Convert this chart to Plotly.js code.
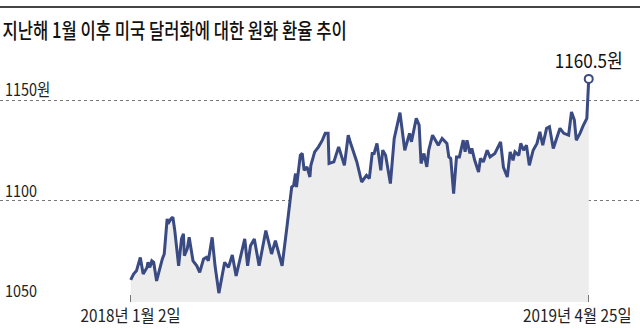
<!DOCTYPE html>
<html>
<head>
<meta charset="utf-8">
<script src="https://cdn.plot.ly/plotly-3.0.1.min.js"></script>
<style>
html,body{margin:0;padding:0;background:#fff;}
#chart{width:640px;height:329px;}
</style>
</head>
<body>
<div id="chart"></div>
<script>
const titleText = '지난해 1월 이후 미국 달러화에 대한 원화 환율 추이';
const dates = [
'2018-01-02','2018-01-05','2018-01-08','2018-01-12','2018-01-15','2018-01-19','2018-01-20','2018-01-22','2018-01-24','2018-01-26',
'2018-01-29','2018-02-02','2018-02-04','2018-02-06','2018-02-09','2018-02-10','2018-02-13','2018-02-15','2018-02-17','2018-02-21',
'2018-02-24','2018-02-26','2018-02-27','2018-03-02','2018-03-04','2018-03-08','2018-03-12','2018-03-15','2018-03-19','2018-03-22',
'2018-03-24','2018-03-28','2018-03-31','2018-04-04','2018-04-10','2018-04-14','2018-04-18','2018-04-22','2018-04-28','2018-05-01',
'2018-05-04','2018-05-07','2018-05-11','2018-05-16','2018-05-23','2018-05-29','2018-06-02','2018-06-09','2018-06-14','2018-06-19',
'2018-06-21','2018-06-23','2018-06-24','2018-06-28','2018-06-30','2018-07-02','2018-07-05','2018-07-08','2018-07-09','2018-07-13',
'2018-07-17','2018-07-19','2018-07-21','2018-07-24','2018-07-27','2018-07-28','2018-08-02','2018-08-07','2018-08-13','2018-08-17',
'2018-08-19','2018-08-26','2018-08-31','2018-09-05','2018-09-08','2018-09-11','2018-09-13','2018-09-16','2018-09-19','2018-09-20',
'2018-09-22','2018-09-25','2018-09-30','2018-10-04','2018-10-10','2018-10-15','2018-10-20','2018-10-22','2018-10-27','2018-10-30',
'2018-11-01','2018-11-04','2018-11-07','2018-11-09','2018-11-13','2018-11-19','2018-11-23','2018-11-28','2018-11-30','2018-12-02',
'2018-12-05','2018-12-08','2018-12-11','2018-12-15','2018-12-17','2018-12-19','2018-12-22','2018-12-24','2018-12-27','2018-12-31',
'2019-01-02','2019-01-05','2019-01-09','2019-01-12','2019-01-17','2019-01-23','2019-01-26','2019-01-30','2019-02-02','2019-02-05',
'2019-02-07','2019-02-11','2019-02-13','2019-02-16','2019-02-19','2019-02-22','2019-02-26','2019-03-02','2019-03-05','2019-03-08',
'2019-03-12','2019-03-15','2019-03-19','2019-03-23','2019-03-26','2019-03-30','2019-04-04','2019-04-07','2019-04-10','2019-04-12',
'2019-04-16','2019-04-19','2019-04-23','2019-04-25'
];
const rates = [
1060.5,1063.4,1065.0,1071.7,1063.4,1066.7,1069.2,1066.7,1070.0,1069.2,
1060.0,1067.5,1070.9,1073.4,1090.9,1088.4,1090.9,1091.7,1085.0,1067.5,
1080.9,1083.4,1072.5,1075.9,1081.7,1070.0,1067.5,1064.2,1070.9,1071.7,
1070.0,1081.7,1067.5,1053.9,1069.2,1066.7,1072.9,1062.5,1074.2,1080.9,
1067.5,1077.5,1080.9,1067.5,1085.0,1073.4,1080.0,1067.5,1086.7,1106.7,
1107.5,1113.4,1106.7,1122.5,1123.4,1115.0,1116.7,1111.7,1117.5,1124.2,
1126.7,1128.4,1130.0,1133.4,1133.4,1118.4,1119.2,1126.7,1117.5,1132.5,
1129.2,1119.2,1109.2,1112.5,1110.9,1123.4,1123.4,1128.4,1119.2,1115.0,
1125.0,1122.5,1108.4,1130.9,1143.7,1125.0,1133.4,1129.2,1140.9,1137.5,
1118.4,1123.4,1116.7,1125.0,1132.5,1127.5,1130.9,1128.4,1121.7,1120.9,
1103.4,1121.7,1121.7,1130.0,1124.2,1130.0,1123.4,1125.9,1120.0,1114.2,
1120.9,1119.2,1125.0,1121.7,1123.4,1129.2,1116.5,1111.7,1124.2,1120.0,
1124.2,1122.5,1128.4,1125.0,1127.5,1117.5,1125.0,1128.4,1134.2,1127.5,
1135.9,1136.7,1125.9,1131.7,1135.9,1133.4,1132.5,1144.0,1140.0,1130.0,
1133.5,1137.0,1140.9,1160.5
];
const yTickVals = [1050, 1100, 1150];
const yTickLabels = ['1050', '1100', '1150원'];
const xLabelDates = ['2018-01-02', '2019-04-25'];
const xLabels = ['2018년 1월 2일', '2019년 4월 25일'];
const lastLabel = '1160.5원';

const FONT = '"Noto Sans CJK KR", "Noto Sans", sans-serif';
const lineColor = '#3a4a82';
const n = dates.length;

const traces = [
  {
    x: dates, y: rates, type: 'scatter', mode: 'lines',
    line: {color: lineColor, width: 3},
    fill: 'tozeroy', fillcolor: '#ededed',
    hoverinfo: 'skip'
  },
  {
    x: [dates[n-1]], y: [rates[n-1]], type: 'scatter', mode: 'markers',
    marker: {size: 8, color: '#ffffff', line: {color: lineColor, width: 2}},
    hoverinfo: 'skip'
  }
];

// annotation list, with per-annotation horizontal condensing (scale, origin)
const annotations = [];
const condenseSpec = [];
yTickVals.forEach((v, i) => {
  annotations.push({
    x: 0.004, xref: 'paper', xanchor: 'left',
    y: v, yref: 'y', yanchor: 'bottom', yshift: -3,
    text: yTickLabels[i], showarrow: false,
    font: {family: FONT, size: 17, color: '#222'}
  });
  condenseSpec.push([0.85, 'left']);
});
annotations.push({
  x: xLabelDates[0], xref: 'x', xanchor: 'center',
  y: 0, yref: 'paper', yanchor: 'top', yshift: 2,
  text: xLabels[0], showarrow: false,
  font: {family: FONT, size: 17, color: '#222'}
});
condenseSpec.push([0.9, 'center']);
annotations.push({
  x: 0.99, xref: 'paper', xanchor: 'right',
  y: 0, yref: 'paper', yanchor: 'top', yshift: 2,
  text: xLabels[1], showarrow: false,
  font: {family: FONT, size: 17, color: '#222'}
});
condenseSpec.push([0.9, 'right']);
annotations.push({
  x: dates[n-1], xref: 'x', xanchor: 'center',
  y: rates[n-1], yref: 'y', yanchor: 'bottom', yshift: 4,
  text: lastLabel, showarrow: false,
  font: {family: FONT, size: 19, color: '#111'}
});
condenseSpec.push([0.9, 'center']);

const layout = {
  width: 640, height: 329,
  margin: {l: 0, r: 0, t: 60, b: 27, pad: 0},
  paper_bgcolor: '#ffffff', plot_bgcolor: '#ffffff',
  showlegend: false,
  title: {
    text: titleText, x: 0.004, xanchor: 'left', xref: 'container',
    y: 1 - 31/329, yanchor: 'middle', yref: 'container',
    font: {family: FONT, size: 21, color: '#111', weight: 500}
  },
  xaxis: {
    type: 'date',
    range: ['2017-08-18 14:00', '2019-06-17 12:00'],
    showgrid: false, zeroline: false, showline: false,
    tickvals: xLabelDates, showticklabels: false,
    ticks: 'inside', ticklen: 7, tickcolor: '#777', tickwidth: 1,
    fixedrange: true
  },
  yaxis: {
    range: [1049.5, 1169.9],
    tickvals: yTickVals, showticklabels: false,
    showgrid: true, gridcolor: '#777', griddash: 'dot', gridwidth: 1,
    zeroline: false, showline: false, ticks: '',
    fixedrange: true
  },
  shapes: [{
    type: 'line', xref: 'paper', yref: 'paper',
    x0: 0, x1: 1, y0: (302 - 7) / 242, y1: (302 - 7) / 242,
    line: {color: '#444', width: 2}
  }],
  annotations: annotations
};

function condense(el, s, mode) {
  if (!el) return;
  const bb = el.getBBox();
  let ox = bb.x;
  if (mode === 'center') ox = bb.x + bb.width / 2;
  if (mode === 'right') ox = bb.x + bb.width;
  const prev = el.getAttribute('transform') || '';
  el.setAttribute('transform', prev + ` translate(${ox},0) scale(${s},1) translate(${-ox},0)`);
}

Plotly.newPlot('chart', traces, layout, {displayModeBar: false, staticPlot: true}).then(gd => {
  condense(gd.querySelector('.gtitle'), 0.79, 'left');
  const anns = gd.querySelectorAll('.annotation-text');
  anns.forEach((t, i) => {
    const spec = condenseSpec[i];
    if (spec) condense(t, spec[0], spec[1]);
  });
});
</script>
</body>
</html>
